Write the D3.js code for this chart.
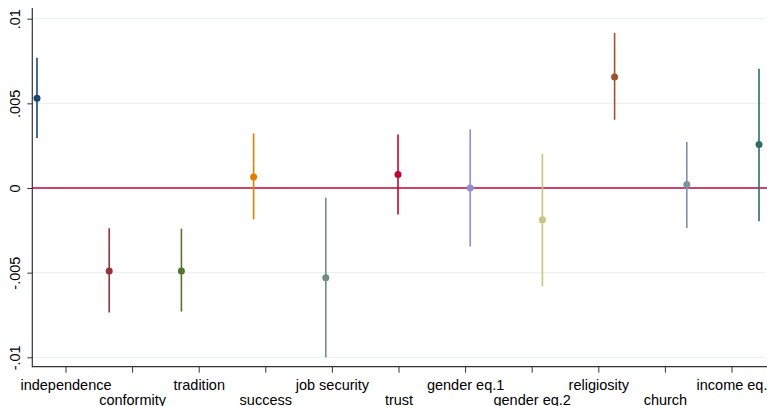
<!DOCTYPE html>
<html>
<head>
<meta charset="utf-8">
<script src="https://cdn.jsdelivr.net/npm/d3@7"></script>
<style>
  html, body { margin: 0; padding: 0; background: #fff; }
  svg { display: block; }
  text { font-family: "Liberation Sans", Arial, sans-serif; }
</style>
</head>
<body>
<svg id="chart" width="767" height="406"></svg>
<script>
// Coefficient estimates with 95% confidence intervals
const categories = ["independence", "conformity", "tradition", "success", "job security",
                    "trust", "gender eq.1", "gender eq.2", "religiosity", "church", "income eq."];
const estimates = [0.0053, -0.0049, -0.0049, 0.00065, -0.0053, 0.0008, 0.0000, -0.00187, 0.00656, 0.0002, 0.00257];
const ciLow     = [0.00295, -0.00735, -0.0073, -0.00185, -0.0100, -0.00157, -0.00345, -0.0058, 0.00403, -0.00236, -0.00196];
const ciHigh    = [0.0077, -0.00238, -0.0024, 0.00322, -0.00057, 0.00316, 0.00347, 0.00201, 0.00916, 0.00271, 0.00705];
const colors    = ["#1a476f", "#90353b", "#55752f", "#e37e00", "#6e8e84", "#c10534",
                   "#938dd2", "#cac27e", "#a0522d", "#7b92a8", "#2d6d66"];
const yTicks = [-0.01, -0.005, 0, 0.005, 0.01];
const yTickLabels = ["-.01", "-.005", "0", ".005", ".01"];

const svg = d3.select("#chart");
const W = 767;
const axisX = 32.3, axisY = 366.7;

const y = d3.scaleLinear().domain([-0.01, 0.01]).range([357.3, 18.7]);
// marker positions
const x = d3.scaleLinear().domain([0, categories.length - 1]).range([37, 759]);
// label positions along the axis
const xLab = d3.scaleLinear().domain([0, categories.length - 1]).range([66, 732]);

// grid lines
svg.append("g").selectAll("line")
  .data(yTicks.filter(d => d !== 0))
  .join("line")
  .attr("x1", axisX).attr("x2", W - 2)
  .attr("y1", d => y(d)).attr("y2", d => y(d))
  .attr("stroke", "#eaf2f3").attr("stroke-width", 1.2);

// reference line at zero
svg.append("line")
  .attr("x1", axisX).attr("x2", W)
  .attr("y1", y(0)).attr("y2", y(0))
  .attr("stroke", "#c10534").attr("stroke-width", 1.5);

// y axis
const yAxis = d3.axisLeft(y).tickValues(yTicks)
  .tickFormat((d, i) => yTickLabels[i]).tickSize(5).tickPadding(3);
const gy = svg.append("g").attr("transform", `translate(${axisX},0)`).call(yAxis);
gy.select(".domain").remove();
gy.selectAll(".tick line").attr("stroke", "#333").attr("stroke-width", 1);
gy.selectAll(".tick text")
  .attr("font-size", 14.5).attr("fill", "#000")
  .attr("text-anchor", "middle")
  .attr("transform", "rotate(-90)")
  .attr("x", 0).attr("y", -17).attr("dy", "0.35em");
svg.append("line")
  .attr("x1", axisX).attr("x2", axisX).attr("y1", 8).attr("y2", axisY + 0.5)
  .attr("stroke", "#333").attr("stroke-width", 1.2);

// x axis
const gx = svg.append("g").attr("transform", `translate(0,${axisY})`);
gx.append("line").attr("x1", axisX).attr("x2", W).attr("y1", 0).attr("y2", 0)
  .attr("stroke", "#333").attr("stroke-width", 1.2);
gx.selectAll("line.tk").data(categories).join("line").attr("class", "tk")
  .attr("x1", (d, i) => xLab(i)).attr("x2", (d, i) => xLab(i))
  .attr("y1", 0).attr("y2", 6)
  .attr("stroke", "#333").attr("stroke-width", 1);
gx.selectAll("text").data(categories).join("text")
  .attr("x", (d, i) => xLab(i))
  .attr("y", (d, i) => i % 2 === 0 ? 23.5 : 38)
  .attr("text-anchor", "middle")
  .attr("font-size", 14.5).attr("fill", "#000")
  .text(d => d);

// confidence intervals
svg.append("g").selectAll("line")
  .data(categories)
  .join("line")
  .attr("x1", (d, i) => x(i)).attr("x2", (d, i) => x(i))
  .attr("y1", (d, i) => y(ciLow[i])).attr("y2", (d, i) => y(ciHigh[i]))
  .attr("stroke", (d, i) => colors[i]).attr("stroke-width", 1.6);

// point estimates
svg.append("g").selectAll("circle")
  .data(categories)
  .join("circle")
  .attr("cx", (d, i) => x(i)).attr("cy", (d, i) => y(estimates[i]))
  .attr("r", 3.5)
  .attr("fill", (d, i) => colors[i]);
</script>
</body>
</html>
